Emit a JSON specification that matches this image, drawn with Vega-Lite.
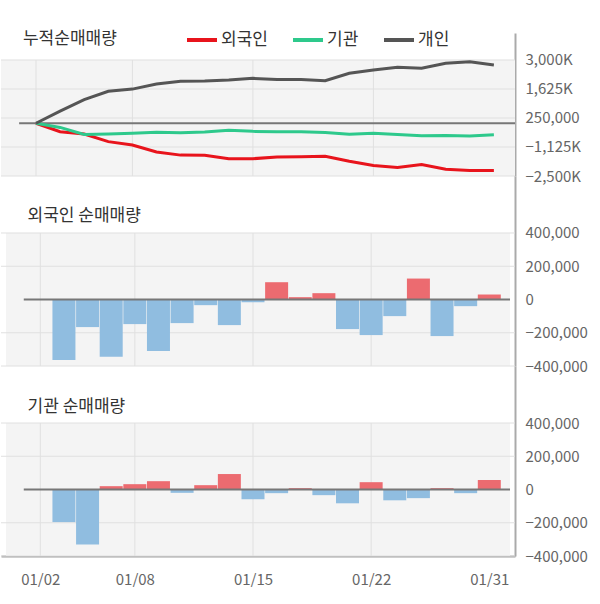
{
  "$schema": "https://vega.github.io/schema/vega-lite/v6.json",
  "padding": {"left": 0, "top": 23, "right": 0, "bottom": 0},
  "autosize": {"type": "pad"},
  "background": "white",
  "bounds": "flush",
  "spacing": 0,
  "config": {
    "view": {"stroke": null},
    "font": "Noto Sans CJK KR",
    "axis": {
      "grid": false,
      "ticks": false,
      "tickSize": 0,
      "labelFont": "Noto Sans CJK KR",
      "labelFontSize": 15,
      "labelColor": "#666666",
      "domainColor": "#aaaaaa",
      "domainWidth": 2,
      "labelFlush": false,
      "labelOverlap": false,
      "zindex": 1
    },
    "text": {"font": "Noto Sans CJK KR"}
  },
  "datasets": {
    "cum": [
      {"i": 0, "d": "01/02", "who": "외국인", "v": 0},
      {"i": 1, "d": "01/03", "who": "외국인", "v": -400000},
      {"i": 2, "d": "01/06", "who": "외국인", "v": -510000},
      {"i": 3, "d": "01/07", "who": "외국인", "v": -870000},
      {"i": 4, "d": "01/08", "who": "외국인", "v": -1030000},
      {"i": 5, "d": "01/09", "who": "외국인", "v": -1360000},
      {"i": 6, "d": "01/10", "who": "외국인", "v": -1510000},
      {"i": 7, "d": "01/13", "who": "외국인", "v": -1520000},
      {"i": 8, "d": "01/14", "who": "외국인", "v": -1680000},
      {"i": 9, "d": "01/15", "who": "외국인", "v": -1680000},
      {"i": 10, "d": "01/16", "who": "외국인", "v": -1600000},
      {"i": 11, "d": "01/17", "who": "외국인", "v": -1590000},
      {"i": 12, "d": "01/20", "who": "외국인", "v": -1560000},
      {"i": 13, "d": "01/21", "who": "외국인", "v": -1800000},
      {"i": 14, "d": "01/22", "who": "외국인", "v": -2000000},
      {"i": 15, "d": "01/23", "who": "외국인", "v": -2100000},
      {"i": 16, "d": "01/24", "who": "외국인", "v": -1960000},
      {"i": 17, "d": "01/27", "who": "외국인", "v": -2180000},
      {"i": 18, "d": "01/30", "who": "외국인", "v": -2240000},
      {"i": 19, "d": "01/31", "who": "외국인", "v": -2240000},
      {"i": 0, "d": "01/02", "who": "기관", "v": 0},
      {"i": 1, "d": "01/03", "who": "기관", "v": -196000},
      {"i": 2, "d": "01/06", "who": "기관", "v": -527000},
      {"i": 3, "d": "01/07", "who": "기관", "v": -507000},
      {"i": 4, "d": "01/08", "who": "기관", "v": -475000},
      {"i": 5, "d": "01/09", "who": "기관", "v": -425000},
      {"i": 6, "d": "01/10", "who": "기관", "v": -445000},
      {"i": 7, "d": "01/13", "who": "기관", "v": -419000},
      {"i": 8, "d": "01/14", "who": "기관", "v": -326000},
      {"i": 9, "d": "01/15", "who": "기관", "v": -384000},
      {"i": 10, "d": "01/16", "who": "기관", "v": -406000},
      {"i": 11, "d": "01/17", "who": "기관", "v": -398000},
      {"i": 12, "d": "01/20", "who": "기관", "v": -432000},
      {"i": 13, "d": "01/21", "who": "기관", "v": -515000},
      {"i": 14, "d": "01/22", "who": "기관", "v": -471000},
      {"i": 15, "d": "01/23", "who": "기관", "v": -536000},
      {"i": 16, "d": "01/24", "who": "기관", "v": -588000},
      {"i": 17, "d": "01/27", "who": "기관", "v": -580000},
      {"i": 18, "d": "01/30", "who": "기관", "v": -602000},
      {"i": 19, "d": "01/31", "who": "기관", "v": -545000},
      {"i": 0, "d": "01/02", "who": "개인", "v": 0},
      {"i": 1, "d": "01/03", "who": "개인", "v": 577000},
      {"i": 2, "d": "01/06", "who": "개인", "v": 1120000},
      {"i": 3, "d": "01/07", "who": "개인", "v": 1520000},
      {"i": 4, "d": "01/08", "who": "개인", "v": 1620000},
      {"i": 5, "d": "01/09", "who": "개인", "v": 1860000},
      {"i": 6, "d": "01/10", "who": "개인", "v": 1990000},
      {"i": 7, "d": "01/13", "who": "개인", "v": 2000000},
      {"i": 8, "d": "01/14", "who": "개인", "v": 2050000},
      {"i": 9, "d": "01/15", "who": "개인", "v": 2130000},
      {"i": 10, "d": "01/16", "who": "개인", "v": 2080000},
      {"i": 11, "d": "01/17", "who": "개인", "v": 2080000},
      {"i": 12, "d": "01/20", "who": "개인", "v": 2020000},
      {"i": 13, "d": "01/21", "who": "개인", "v": 2370000},
      {"i": 14, "d": "01/22", "who": "개인", "v": 2530000},
      {"i": 15, "d": "01/23", "who": "개인", "v": 2660000},
      {"i": 16, "d": "01/24", "who": "개인", "v": 2610000},
      {"i": 17, "d": "01/27", "who": "개인", "v": 2850000},
      {"i": 18, "d": "01/30", "who": "개인", "v": 2920000},
      {"i": 19, "d": "01/31", "who": "개인", "v": 2760000}
    ],
    "daily": [
      {"i": 1, "d": "01/03", "f": -364000, "n": -196000},
      {"i": 2, "d": "01/06", "f": -166000, "n": -331000},
      {"i": 3, "d": "01/07", "f": -344000, "n": 20000},
      {"i": 4, "d": "01/08", "f": -148000, "n": 32000},
      {"i": 5, "d": "01/09", "f": -310000, "n": 50000},
      {"i": 6, "d": "01/10", "f": -142000, "n": -20000},
      {"i": 7, "d": "01/13", "f": -34000, "n": 26000},
      {"i": 8, "d": "01/14", "f": -154000, "n": 93000},
      {"i": 9, "d": "01/15", "f": -16000, "n": -58000},
      {"i": 10, "d": "01/16", "f": 104000, "n": -22000},
      {"i": 11, "d": "01/17", "f": 14000, "n": 8000},
      {"i": 12, "d": "01/20", "f": 38000, "n": -34000},
      {"i": 13, "d": "01/21", "f": -178000, "n": -83000},
      {"i": 14, "d": "01/22", "f": -214000, "n": 44000},
      {"i": 15, "d": "01/23", "f": -100000, "n": -65000},
      {"i": 16, "d": "01/24", "f": 126000, "n": -52000},
      {"i": 17, "d": "01/27", "f": -220000, "n": 8000},
      {"i": 18, "d": "01/30", "f": -40000, "n": -22000},
      {"i": 19, "d": "01/31", "f": 30000, "n": 57000}
    ]
  },
  "vconcat": [
    {
      "width": 514,
      "height": 143,
      "layer": [
        {
          "data": {"values": [{"part": "background"}]},
          "mark": {"type": "rect", "fill": "#f4f4f4"},
          "encoding": {
            "x": {"datum": -1.452, "type": "quantitative", "scale": {"type": "linear", "domain": [-1.452, 19.876], "nice": false, "zero": false}, "axis": null},
            "x2": {"datum": 19.876},
            "y": {"datum": -2500000, "type": "quantitative", "scale": {"type": "linear", "domain": [-2500000, 4280000], "nice": false, "zero": false},
              "axis": {"orient": "right", "title": null, "values": [-2500000, -1125000, 250000, 1625000, 3000000], "labelExpr": "abs(datum.value) >= 1000000 ? format(datum.value / 1000, ',') + 'K' : format(datum.value, ',')", "labelPadding": 10}},
            "y2": {"datum": 3000000}
          }
        },
        {
          "data": {"values": [{"g": -2500000}, {"g": -1125000}, {"g": 250000}, {"g": 1625000}, {"g": 3000000}]},
          "mark": {"type": "rule", "stroke": "#e0e0e0", "strokeWidth": 1},
          "encoding": {
            "y": {"field": "g", "type": "quantitative", "scale": {"type": "linear", "domain": [-2500000, 4280000], "nice": false, "zero": false},
              "axis": {"orient": "right", "title": null, "values": [-2500000, -1125000, 250000, 1625000, 3000000], "labelExpr": "abs(datum.value) >= 1000000 ? format(datum.value / 1000, ',') + 'K' : format(datum.value, ',')", "labelPadding": 10}}
          }
        },
        {
          "data": {"values": [{"g": 0}, {"g": 4}, {"g": 9}, {"g": 14}]},
          "mark": {"type": "rule", "stroke": "#e0e0e0", "strokeWidth": 1},
          "encoding": {
            "x": {"field": "g", "type": "quantitative", "scale": {"type": "linear", "domain": [-1.452, 19.876], "nice": false, "zero": false}, "axis": null},
            "y": {"datum": -2500000, "type": "quantitative", "scale": {"type": "linear", "domain": [-2500000, 4280000], "nice": false, "zero": false},
              "axis": {"orient": "right", "title": null, "values": [-2500000, -1125000, 250000, 1625000, 3000000], "labelExpr": "abs(datum.value) >= 1000000 ? format(datum.value / 1000, ',') + 'K' : format(datum.value, ',')", "labelPadding": 10}},
            "y2": {"datum": 3000000}
          }
        },
        {
          "data": {"values": [{"z": 0}]},
          "mark": {"type": "rule", "stroke": "#777777", "strokeWidth": 2},
          "encoding": {
            "x": {"datum": -0.7, "type": "quantitative", "scale": {"type": "linear", "domain": [-1.452, 19.876], "nice": false, "zero": false}, "axis": null},
            "x2": {"datum": 19.876},
            "y": {"field": "z", "type": "quantitative", "scale": {"type": "linear", "domain": [-2500000, 4280000], "nice": false, "zero": false},
              "axis": {"orient": "right", "title": null, "values": [-2500000, -1125000, 250000, 1625000, 3000000], "labelExpr": "abs(datum.value) >= 1000000 ? format(datum.value / 1000, ',') + 'K' : format(datum.value, ',')", "labelPadding": 10}}
          }
        },
        {
          "data": {"name": "cum"},
          "mark": {"type": "line", "strokeWidth": 3},
          "encoding": {
            "x": {"field": "i", "type": "quantitative", "scale": {"type": "linear", "domain": [-1.452, 19.876], "nice": false, "zero": false}, "axis": null},
            "y": {"field": "v", "type": "quantitative", "scale": {"type": "linear", "domain": [-2500000, 4280000], "nice": false, "zero": false},
              "axis": {"orient": "right", "title": null, "values": [-2500000, -1125000, 250000, 1625000, 3000000], "labelExpr": "abs(datum.value) >= 1000000 ? format(datum.value / 1000, ',') + 'K' : format(datum.value, ',')", "labelPadding": 10}},
            "color": {
              "field": "who", "type": "nominal",
              "scale": {"domain": ["외국인", "기관", "개인"], "range": ["#e8141c", "#2ec98c", "#555555"]},
              "legend": {
                "orient": "none", "legendX": 184, "legendY": -10, "direction": "horizontal",
                "title": null, "symbolType": "stroke", "symbolSize": 900, "symbolStrokeWidth": 4,
                "labelFontSize": 17, "labelColor": "#333333", "labelFont": "Noto Sans CJK KR",
                "labelOffset": 2, "columnPadding": 17, "padding": 0
              }
            },
            "order": {"field": "i", "type": "quantitative"}
          }
        },
        {
          "data": {"values": [{"t": "누적순매매량"}]},
          "mark": {"type": "text", "align": "left", "baseline": "middle", "fontSize": 17, "color": "#333333"},
          "encoding": {
            "x": {"datum": -0.54, "type": "quantitative", "scale": {"type": "linear", "domain": [-1.452, 19.876], "nice": false, "zero": false}, "axis": null},
            "y": {"datum": 3990000, "type": "quantitative", "scale": {"type": "linear", "domain": [-2500000, 4280000], "nice": false, "zero": false},
              "axis": {"orient": "right", "title": null, "values": [-2500000, -1125000, 250000, 1625000, 3000000], "labelExpr": "abs(datum.value) >= 1000000 ? format(datum.value / 1000, ',') + 'K' : format(datum.value, ',')", "labelPadding": 10}},
            "text": {"field": "t"}
          }
        }
      ]
    },
    {
      "width": 514,
      "height": 190,
      "layer": [
        {
          "data": {"values": [{"part": "background"}]},
          "mark": {"type": "rect", "fill": "#f4f4f4"},
          "encoding": {
            "x": {"datum": -1.452, "type": "quantitative", "scale": {"type": "linear", "domain": [-1.452, 19.876], "nice": false, "zero": false}, "axis": null},
            "x2": {"datum": 19.876},
            "y": {"datum": -400000, "type": "quantitative", "scale": {"type": "linear", "domain": [-400000, 742857], "nice": false, "zero": false},
              "axis": {"orient": "right", "title": null, "values": [-400000, -200000, 0, 200000, 400000], "labelExpr": "format(datum.value, ',')", "labelPadding": 10}},
            "y2": {"datum": 400000}
          }
        },
        {
          "data": {"values": [{"g": -400000}, {"g": -200000}, {"g": 200000}, {"g": 400000}]},
          "mark": {"type": "rule", "stroke": "#e0e0e0", "strokeWidth": 1},
          "encoding": {
            "y": {"field": "g", "type": "quantitative", "scale": {"type": "linear", "domain": [-400000, 742857], "nice": false, "zero": false},
              "axis": {"orient": "right", "title": null, "values": [-400000, -200000, 0, 200000, 400000], "labelExpr": "format(datum.value, ',')", "labelPadding": 10}}
          }
        },
        {
          "data": {"values": [{"g": 0}, {"g": 4}, {"g": 9}, {"g": 14}]},
          "mark": {"type": "rule", "stroke": "#e0e0e0", "strokeWidth": 1},
          "encoding": {
            "x": {"field": "g", "type": "quantitative", "scale": {"type": "linear", "domain": [-1.452, 19.876], "nice": false, "zero": false}, "axis": null},
            "y": {"datum": -400000, "type": "quantitative", "scale": {"type": "linear", "domain": [-400000, 742857], "nice": false, "zero": false},
              "axis": {"orient": "right", "title": null, "values": [-400000, -200000, 0, 200000, 400000], "labelExpr": "format(datum.value, ',')", "labelPadding": 10}},
            "y2": {"datum": 400000}
          }
        },
        {
          "data": {"name": "daily"},
          "mark": {"type": "bar", "width": 23, "orient": "vertical"},
          "encoding": {
            "x": {"field": "i", "type": "quantitative", "scale": {"type": "linear", "domain": [-1.452, 19.876], "nice": false, "zero": false}, "axis": null},
            "y": {"field": "f", "type": "quantitative", "scale": {"type": "linear", "domain": [-400000, 742857], "nice": false, "zero": false},
              "axis": {"orient": "right", "title": null, "values": [-400000, -200000, 0, 200000, 400000], "labelExpr": "format(datum.value, ',')", "labelPadding": 10}},
            "y2": {"datum": 0},
            "color": {"condition": {"test": "datum.f > 0", "value": "#ec6b70"}, "value": "#90bde0"}
          }
        },
        {
          "data": {"values": [{"z": 0}]},
          "mark": {"type": "rule", "stroke": "#777777", "strokeWidth": 2},
          "encoding": {
            "x": {"datum": -0.7, "type": "quantitative", "scale": {"type": "linear", "domain": [-1.452, 19.876], "nice": false, "zero": false}, "axis": null},
            "x2": {"datum": 19.876},
            "y": {"field": "z", "type": "quantitative", "scale": {"type": "linear", "domain": [-400000, 742857], "nice": false, "zero": false},
              "axis": {"orient": "right", "title": null, "values": [-400000, -200000, 0, 200000, 400000], "labelExpr": "format(datum.value, ',')", "labelPadding": 10}}
          }
        },
        {
          "data": {"values": [{"t": "외국인 순매매량"}]},
          "mark": {"type": "text", "align": "left", "baseline": "middle", "fontSize": 17, "color": "#333333"},
          "encoding": {
            "x": {"datum": -0.54, "type": "quantitative", "scale": {"type": "linear", "domain": [-1.452, 19.876], "nice": false, "zero": false}, "axis": null},
            "y": {"datum": 505000, "type": "quantitative", "scale": {"type": "linear", "domain": [-400000, 742857], "nice": false, "zero": false},
              "axis": {"orient": "right", "title": null, "values": [-400000, -200000, 0, 200000, 400000], "labelExpr": "format(datum.value, ',')", "labelPadding": 10}},
            "text": {"field": "t"}
          }
        }
      ]
    },
    {
      "width": 514,
      "height": 190,
      "layer": [
        {
          "data": {"values": [{"part": "background"}]},
          "mark": {"type": "rect", "fill": "#f4f4f4"},
          "encoding": {
            "x": {"datum": -1.452, "type": "quantitative", "scale": {"type": "linear", "domain": [-1.452, 19.876], "nice": false, "zero": false},
              "axis": {"orient": "bottom", "title": null, "values": [0, 4, 9, 14, 19], "labelExpr": "datum.value == 0 ? '01/02' : datum.value == 4 ? '01/08' : datum.value == 9 ? '01/15' : datum.value == 14 ? '01/22' : '01/31'", "domainColor": "#a0a0a0", "domainWidth": 2, "labelPadding": 16}},
            "x2": {"datum": 19.876},
            "y": {"datum": -400000, "type": "quantitative", "scale": {"type": "linear", "domain": [-400000, 742857], "nice": false, "zero": false},
              "axis": {"orient": "right", "title": null, "values": [-400000, -200000, 0, 200000, 400000], "labelExpr": "format(datum.value, ',')", "labelPadding": 10}},
            "y2": {"datum": 400000}
          }
        },
        {
          "data": {"values": [{"g": -400000}, {"g": -200000}, {"g": 200000}, {"g": 400000}]},
          "mark": {"type": "rule", "stroke": "#e0e0e0", "strokeWidth": 1},
          "encoding": {
            "y": {"field": "g", "type": "quantitative", "scale": {"type": "linear", "domain": [-400000, 742857], "nice": false, "zero": false},
              "axis": {"orient": "right", "title": null, "values": [-400000, -200000, 0, 200000, 400000], "labelExpr": "format(datum.value, ',')", "labelPadding": 10}}
          }
        },
        {
          "data": {"values": [{"g": 0}, {"g": 4}, {"g": 9}, {"g": 14}]},
          "mark": {"type": "rule", "stroke": "#e0e0e0", "strokeWidth": 1},
          "encoding": {
            "x": {"field": "g", "type": "quantitative", "scale": {"type": "linear", "domain": [-1.452, 19.876], "nice": false, "zero": false},
              "axis": {"orient": "bottom", "title": null, "values": [0, 4, 9, 14, 19], "labelExpr": "datum.value == 0 ? '01/02' : datum.value == 4 ? '01/08' : datum.value == 9 ? '01/15' : datum.value == 14 ? '01/22' : '01/31'", "domainColor": "#a0a0a0", "domainWidth": 2, "labelPadding": 16}},
            "y": {"datum": -400000, "type": "quantitative", "scale": {"type": "linear", "domain": [-400000, 742857], "nice": false, "zero": false},
              "axis": {"orient": "right", "title": null, "values": [-400000, -200000, 0, 200000, 400000], "labelExpr": "format(datum.value, ',')", "labelPadding": 10}},
            "y2": {"datum": 400000}
          }
        },
        {
          "data": {"name": "daily"},
          "mark": {"type": "bar", "width": 23, "orient": "vertical"},
          "encoding": {
            "x": {"field": "i", "type": "quantitative", "scale": {"type": "linear", "domain": [-1.452, 19.876], "nice": false, "zero": false},
              "axis": {"orient": "bottom", "title": null, "values": [0, 4, 9, 14, 19], "labelExpr": "datum.value == 0 ? '01/02' : datum.value == 4 ? '01/08' : datum.value == 9 ? '01/15' : datum.value == 14 ? '01/22' : '01/31'", "domainColor": "#a0a0a0", "domainWidth": 2, "labelPadding": 16}},
            "y": {"field": "n", "type": "quantitative", "scale": {"type": "linear", "domain": [-400000, 742857], "nice": false, "zero": false},
              "axis": {"orient": "right", "title": null, "values": [-400000, -200000, 0, 200000, 400000], "labelExpr": "format(datum.value, ',')", "labelPadding": 10}},
            "y2": {"datum": 0},
            "color": {"condition": {"test": "datum.n > 0", "value": "#ec6b70"}, "value": "#90bde0"}
          }
        },
        {
          "data": {"values": [{"z": 0}]},
          "mark": {"type": "rule", "stroke": "#777777", "strokeWidth": 2},
          "encoding": {
            "x": {"datum": -0.7, "type": "quantitative", "scale": {"type": "linear", "domain": [-1.452, 19.876], "nice": false, "zero": false},
              "axis": {"orient": "bottom", "title": null, "values": [0, 4, 9, 14, 19], "labelExpr": "datum.value == 0 ? '01/02' : datum.value == 4 ? '01/08' : datum.value == 9 ? '01/15' : datum.value == 14 ? '01/22' : '01/31'", "domainColor": "#a0a0a0", "domainWidth": 2, "labelPadding": 16}},
            "x2": {"datum": 19.876},
            "y": {"field": "z", "type": "quantitative", "scale": {"type": "linear", "domain": [-400000, 742857], "nice": false, "zero": false},
              "axis": {"orient": "right", "title": null, "values": [-400000, -200000, 0, 200000, 400000], "labelExpr": "format(datum.value, ',')", "labelPadding": 10}}
          }
        },
        {
          "data": {"values": [{"t": "기관 순매매량"}]},
          "mark": {"type": "text", "align": "left", "baseline": "middle", "fontSize": 17, "color": "#333333"},
          "encoding": {
            "x": {"datum": -0.54, "type": "quantitative", "scale": {"type": "linear", "domain": [-1.452, 19.876], "nice": false, "zero": false},
              "axis": {"orient": "bottom", "title": null, "values": [0, 4, 9, 14, 19], "labelExpr": "datum.value == 0 ? '01/02' : datum.value == 4 ? '01/08' : datum.value == 9 ? '01/15' : datum.value == 14 ? '01/22' : '01/31'", "domainColor": "#a0a0a0", "domainWidth": 2, "labelPadding": 16}},
            "y": {"datum": 495000, "type": "quantitative", "scale": {"type": "linear", "domain": [-400000, 742857], "nice": false, "zero": false},
              "axis": {"orient": "right", "title": null, "values": [-400000, -200000, 0, 200000, 400000], "labelExpr": "format(datum.value, ',')", "labelPadding": 10}},
            "text": {"field": "t"}
          }
        }
      ]
    }
  ]
}
